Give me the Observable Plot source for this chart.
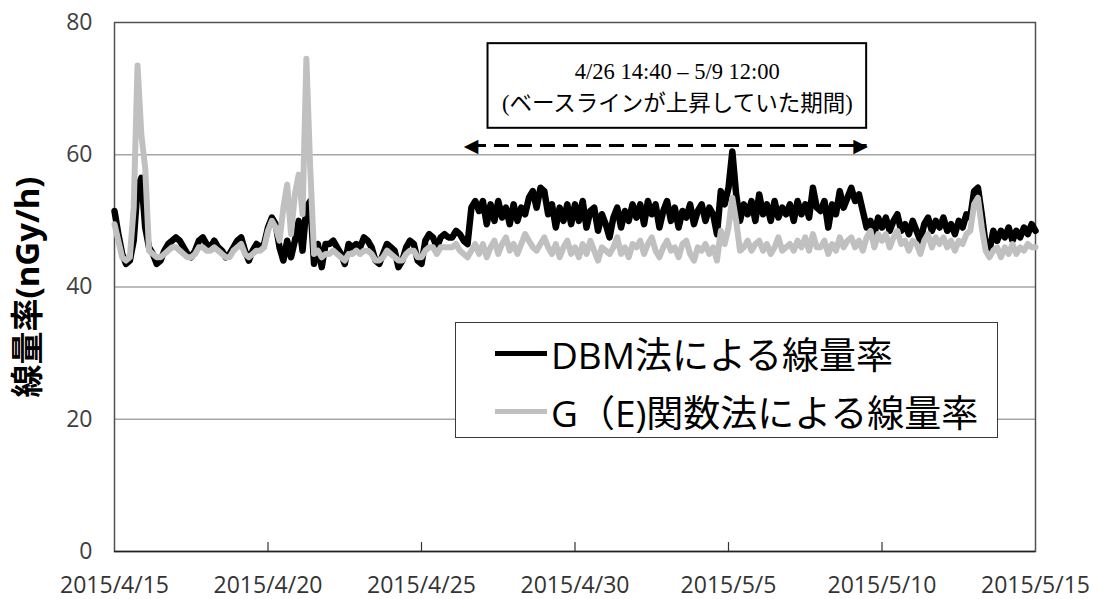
<!DOCTYPE html>
<html>
<head>
<meta charset="utf-8">
<script src="https://cdn.jsdelivr.net/npm/d3@7"></script>
<script src="https://cdn.jsdelivr.net/npm/@observablehq/plot@0.6"></script>
<style>
  html, body { margin: 0; padding: 0; background: #fff; }
  #wrap { position: relative; width: 1098px; height: 599px; }
  #legend {
    position: absolute; left: 455px; top: 322px; width: 543px; height: 116px;
    border: 1.5px solid #3a3a3a; background: #fff; box-sizing: border-box;
    font-family: "Open Sans", "Noto Sans CJK JP", sans-serif; font-size: 37px; color: #000;
  }
  .row { position: absolute; left: 0; height: 46px; display: flex; align-items: center; white-space: nowrap; }
  .sw { width: 52px; height: 5px; margin-left: 39px; margin-right: 4px; }
</style>
</head>
<body>
<div id="wrap">
  <div id="chart"></div>
  <div id="legend">
    <div class="row" style="top:7px"><span class="sw" style="background:#000"></span><span id="lab0"></span></div>
    <div class="row" style="top:65px"><span class="sw" style="background:#c0c0c0"></span><span id="lab1"></span></div>
  </div>
</div>
<script>
// ---- data (3-hour readings from 2015/4/15 00:00) ----
const seriesNames = ["DBM法による線量率", "G（E)関数法による線量率"];
const startDate = new Date(2015, 3, 15);
const endDate = new Date(2015, 4, 15);
const stepHours = 3;
const dbmRate = [
  51.5, 48, 45, 43.5, 44, 47, 55, 56.5,
  49, 46, 45, 43.5, 44, 45.5, 46.5, 47,
  47.5, 47, 46, 45, 44.5, 45.5, 47, 47.5,
  46.5, 46, 47, 46, 45.5, 44.5, 45, 46,
  47, 47.5, 45.5, 44, 45.5, 46.5, 46, 46.5,
  49, 50.5, 49.5, 46, 44, 47, 44.5, 47,
  50, 45.5, 52, 53, 43.5, 46.5, 43, 46.5,
  46.5, 47, 46, 45, 43.5, 46.5, 46, 46.5,
  46, 47.5, 47, 46, 44, 43.5, 45, 46.5,
  46, 45.5, 43, 44, 46, 47, 46.5, 44,
  43.5, 47, 48, 47.5, 46, 47.5, 48, 47.5,
  47.5, 48.5, 48, 47, 46.5, 52, 53, 51.5,
  53, 49.5, 52.5, 50, 53, 50.5, 52, 49.5,
  52.5, 50, 52, 51, 53.5, 54.5, 52, 55,
  54.5, 51, 52.5, 49, 52, 50, 52.5, 49.5,
  52.5, 50, 53, 49, 51.5, 52, 48.5, 51,
  49.5, 47.5, 50.5, 52, 49, 51.5, 50, 52.5,
  50.5, 52.5, 49.5, 53, 51, 52.5, 49, 51.5,
  53, 50, 52, 49, 51.5, 50.5, 52.5, 49.5,
  51.5, 52.5, 50, 52, 51, 48, 54.5, 52.5,
  55, 60.5, 54, 50, 52.5, 51, 53, 50,
  54, 51, 52.5, 50, 53, 50.5, 52, 51,
  52.5, 50, 53, 51, 52.5, 50.5, 55, 52,
  51.5, 53, 49, 52.5, 51, 54.5, 52, 53.5,
  55, 53, 54, 51.5, 49, 50, 48, 50.5,
  49, 50.5, 48.5, 50, 51, 48.5, 49.5, 48,
  50, 48.5, 47, 49.5, 50.5, 48.5, 50, 49,
  50.5, 48.5, 49.5, 48, 50, 49, 51, 50.5,
  54.5, 55, 51, 46.5, 45.5, 48.5, 47, 48.5,
  47.5, 49, 47, 48.5, 47.5, 49, 48, 49.5,
  48.5
];
const geRate = [
  49.5, 47, 44.5, 44, 44.5, 52, 73.5, 63,
  58, 45.5, 45, 44.5, 44.5, 45, 45.5, 46,
  46, 45.5, 45, 44.5, 44.5, 45, 46, 46,
  45.5, 45.5, 46, 45.5, 45, 44.5, 44.5, 45.5,
  46, 46.5, 45, 44.5, 45, 45.5, 45.5, 46,
  48.5, 50, 49, 47, 52, 55.5, 48, 54,
  57, 51, 74.5, 58, 45, 45.5, 44.5, 45,
  45, 45.5, 45, 44.5, 44, 45, 45, 45.5,
  45, 45.5, 45.5, 45, 44, 44, 44.5, 45.5,
  45, 44.5, 44, 44, 45, 45.5, 45.5, 44.5,
  44.5, 45.5, 46, 46, 45, 46, 46, 46,
  46, 46.5, 45.5, 45, 44.5, 45.5, 46.5, 45,
  46.5, 44.5, 46, 47, 45, 46.5, 47.5, 45.5,
  46.5, 45, 46.5, 48, 47, 46, 45.5, 46.5,
  47.5, 46, 45, 46.5, 44.5, 46, 47, 45,
  46, 44.5, 46.5, 45, 47, 45.5, 44, 46,
  45.5, 45, 46, 47.5, 45, 46, 44.5, 46.5,
  46, 47, 45, 46.5, 47.5, 45.5, 44.5, 46,
  47, 45.5, 46, 44.5, 46.5, 47, 45, 44,
  46, 45.5, 46.5, 45, 46, 44, 48.5, 46.5,
  49, 53.5, 50, 45.5, 46, 47, 45.5, 46.5,
  47, 45.5, 46.5, 45, 46, 47.5, 45.5, 46,
  46.5, 45.5, 47, 46, 47.5, 45.5, 48, 46,
  46, 47, 45, 46.5, 45.5, 47.5, 46, 47,
  47.5, 46, 47, 45.5, 47.5, 48.5, 46, 48,
  47, 48, 46, 47.5, 48.5, 46.5, 47, 45.5,
  47, 46.5, 45, 47, 48, 46, 47.5, 46.5,
  47.5, 46, 47, 45.5, 47, 46.5, 48, 48.5,
  52.5, 53.5, 49, 45.5, 44.5, 45.5, 46, 44.5,
  46, 45, 46.5, 45, 46, 45.5, 46.5, 46,
  46
];
const yTicks = [0, 20, 40, 60, 80];
const xTickDates = [
  new Date(2015, 3, 15), new Date(2015, 3, 20), new Date(2015, 3, 25), new Date(2015, 3, 30),
  new Date(2015, 4, 5), new Date(2015, 4, 10), new Date(2015, 4, 15)
];
const yLabel = "線量率(nGy/h)";
// annotation: period with raised baseline
const periodStart = new Date(2015, 3, 26, 14, 40);
const periodEnd = new Date(2015, 4, 9, 12, 0);
const annotationText = "4/26 14:40 – 5/9 12:00\n(ベースラインが上昇していた期間)";
const annotationBoxLeft = new Date(2015, 3, 27, 4, 0);
const annotationBoxY = [64, 76.8];
const annotationTextY = 70.6;
const arrowY = 61.4;

// ---- build table ----
const rows = dbmRate.map((v, i) => ({
  date: new Date(startDate.getTime() + i * stepHours * 3600 * 1000),
  dbm: v,
  ge: geRate[i]
}));
const fmt = d => `${d.getFullYear()}/${d.getMonth() + 1}/${d.getDate()}`;
const textMid = new Date((annotationBoxLeft.getTime() + periodEnd.getTime()) / 2);
const sansFont = "'Open Sans', 'Noto Sans CJK JP', sans-serif";
const serifFont = "'Liberation Serif', 'DejaVu Serif', 'Noto Sans CJK JP', serif";

document.getElementById("lab0").textContent = seriesNames[0];
document.getElementById("lab1").textContent = seriesNames[1];

const chart = Plot.plot({
  width: 1098,
  height: 599,
  marginLeft: 114,
  marginRight: 63,
  marginTop: 22,
  marginBottom: 48,
  style: { fontFamily: sansFont, background: "#fff", color: "#404040", overflow: "visible" },
  x: { type: "time", domain: [startDate, endDate] },
  y: { domain: [0, 80] },
  marks: [
    Plot.ruleY([20, 40, 60], { stroke: "#a6a6a6", strokeWidth: 1.5 }),
    Plot.frame({ stroke: "#505050", strokeWidth: 1.5 }),
    Plot.ruleY([0], { stroke: "#222", strokeWidth: 1.5 }),
    Plot.ruleX(xTickDates.slice(1, -1), { y1: 0, y2: 1.35, stroke: "#333", strokeWidth: 1.2 }),
    Plot.axisX({ ticks: xTickDates, tickSize: 0, tickPadding: 25, tickFormat: fmt, fontSize: 23, label: null, fill: "#333" }),
    Plot.axisY({ ticks: yTicks, tickSize: 0, tickPadding: 22, fontSize: 23, label: null, fill: "#404040" }),
    Plot.lineY(rows, { x: "date", y: "dbm", stroke: "#000", strokeWidth: 6.5, strokeLinejoin: "round" }),
    Plot.lineY(rows, { x: "date", y: "ge", stroke: "#c0c0c0", strokeWidth: 6, strokeLinejoin: "round" }),
    // annotation box and text
    Plot.rect([0], { x1: () => annotationBoxLeft, x2: () => periodEnd, y1: () => annotationBoxY[0], y2: () => annotationBoxY[1], fill: "#fff", stroke: "#000", strokeWidth: 2 }),
    Plot.text([annotationText], { x: () => textMid, y: () => annotationTextY, text: d => d, fontSize: 22.5, lineHeight: 1.45, fontFamily: serifFont, fill: "#000" }),
    // dashed double arrow
    Plot.link([0], { x1: () => periodStart, x2: () => periodEnd, y1: () => arrowY, y2: () => arrowY, stroke: "#000", strokeWidth: 3, strokeDasharray: "15,8" }),
    Plot.text(["◀"], { x: () => periodStart, y: () => arrowY, text: d => d, fontSize: 19, fill: "#000", fontFamily: "'DejaVu Sans', sans-serif", dx: 0 }),
    Plot.text(["▶"], { x: () => periodEnd, y: () => arrowY, text: d => d, fontSize: 19, fill: "#000", fontFamily: "'DejaVu Sans', sans-serif", dx: -6 }),
    // y axis title
    Plot.text([yLabel], { frameAnchor: "left", dx: -86, rotate: -90, textAnchor: "middle", text: d => d, fontSize: 33, fontWeight: "bold", fill: "#000", fontFamily: sansFont })
  ]
});
document.getElementById("chart").appendChild(chart);
</script>
</body>
</html>
